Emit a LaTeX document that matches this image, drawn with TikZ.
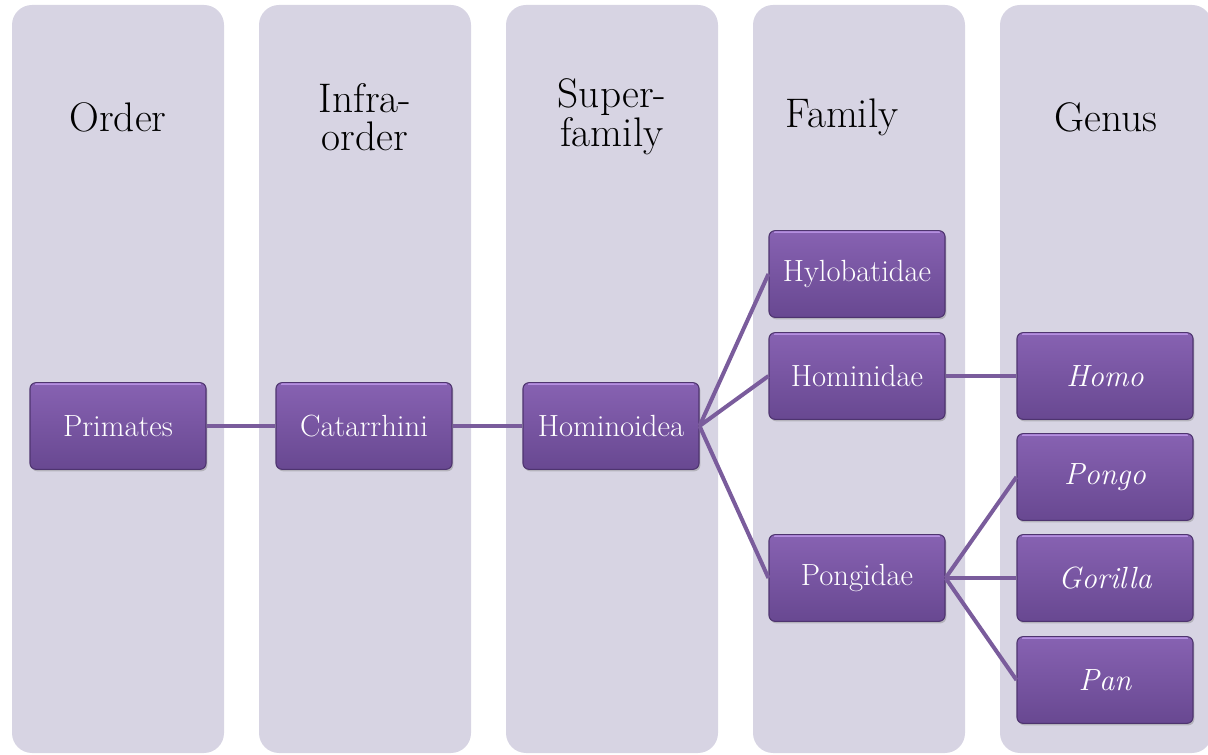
\documentclass[tikz,border=0pt]{standalone}
\usetikzlibrary{shadows}

\definecolor{laneFill}{HTML}{D7D4E3}
\definecolor{taxTop}{HTML}{8762B2}
\definecolor{taxBottom}{HTML}{684891}
\definecolor{taxEdge}{HTML}{4E346F}
\definecolor{taxGlow}{HTML}{B48EE0}
\definecolor{linkCol}{HTML}{7A5C9C}

\tikzset{
  lane/.style={fill=laneFill, draw=none, rounded corners=15pt},
  rank/.style={align=center, font=\fontsize{31}{29}\selectfont},
  taxon/.style={rounded corners=4.5pt, draw=taxEdge, line width=0.8pt,
    top color=taxTop, bottom color=taxBottom, text=white,
    minimum width=132pt, minimum height=65pt, inner sep=0pt,
    font=\fontsize{23}{26}\selectfont,
    path picture={\draw[taxGlow, line width=1.2pt]
      ([xshift=4pt,yshift=-1.2pt]path picture bounding box.north west) --
      ([xshift=-4pt,yshift=-1.2pt]path picture bounding box.north east);},
    drop shadow={opacity=0.4, shadow xshift=1pt, shadow yshift=-1.5pt}},
  link/.style={draw=linkCol, line width=3pt}
}

\begin{document}
\begin{tikzpicture}[x=0.75pt,y=0.75pt,yscale=-1,xscale=1]
\clip (0,0) rectangle (1208,755);

%Shape: Lanes
\foreach \lx in {12,259,506,753,1000}
  \path[lane] (\lx,5) rectangle ++(212,748);

% Text Node: ranks
\node[rank] (hOrder) at (118,117) {Order};
\node[rank] (hInfra) at (365,117) {Infra-\\order};
\node[rank] (hSuper) at (612,117) {Super-\\family};
\node[rank] (hFamily) at (842,117) {Family};
\node[rank] (hGenus) at (1106,117) {Genus};

% Taxa
\node[taxon] (primates) at (118,426) {Primates};
\node[taxon] (catarrhini) at (364,426) {Catarrhini};
\node[taxon] (hominoidea) at (611,426) {Hominoidea};
\node[taxon] (hylobatidae) at (857,274) {Hylobatidae};
\node[taxon] (hominidae) at (857,376) {Hominidae};
\node[taxon] (pongidae) at (857,578) {Pongidae};
\node[taxon] (homo) at (1105,376) {\itshape Homo};
\node[taxon] (pongo) at (1105,477) {\itshape Pongo};
\node[taxon] (gorilla) at (1105,578) {\itshape Gorilla};
\node[taxon] (pan) at (1105,680) {\itshape Pan};

%Straight Lines
\draw[link] (primates.east) -- (catarrhini.west);
\draw[link] (catarrhini.east) -- (hominoidea.west);
\draw[link] (hominoidea.east) -- (hylobatidae.west);
\draw[link] (hominoidea.east) -- (hominidae.west);
\draw[link] (hominoidea.east) -- (pongidae.west);
\draw[link] (hominidae.east) -- (homo.west);
\draw[link] (pongidae.east) -- (pongo.west);
\draw[link] (pongidae.east) -- (gorilla.west);
\draw[link] (pongidae.east) -- (pan.west);

\end{tikzpicture}
\end{document}
